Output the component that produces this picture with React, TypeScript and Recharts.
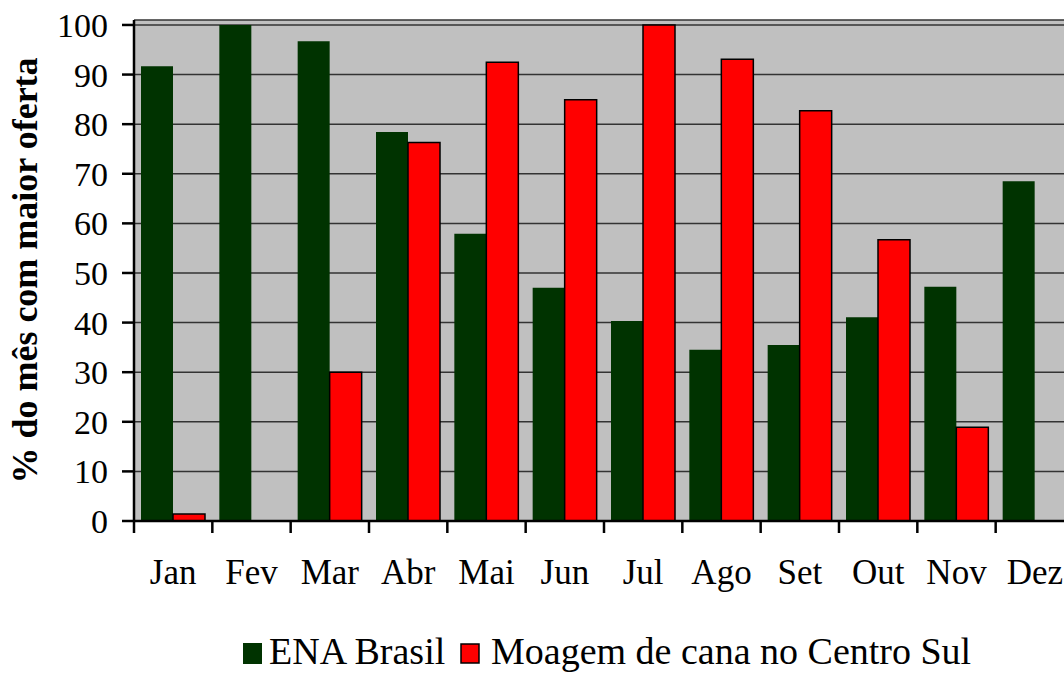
import { BarChart, Bar, XAxis, YAxis, CartesianGrid, Customized, Label } from 'recharts';

const months = ['Jan', 'Fev', 'Mar', 'Abr', 'Mai', 'Jun', 'Jul', 'Ago', 'Set', 'Out', 'Nov', 'Dez'];
const enaBrasil = [91.7, 100, 96.7, 78.4, 57.9, 47.0, 40.3, 34.5, 35.5, 41.1, 47.2, 68.5];
const moagemCana = [1.4, null, 30.0, 76.3, 92.5, 84.9, 100, 93.1, 82.7, 56.7, 18.9, null];
const yTicks = [0, 10, 20, 30, 40, 50, 60, 70, 80, 90, 100];

const series = [
  { key: 'ena', name: 'ENA Brasil', fill: '#003300', stroke: 'none' },
  { key: 'moagem', name: 'Moagem de cana no Centro Sul', fill: '#FF0000', stroke: '#000000' },
];

const data = months.map((m, i) => ({ month: m, ena: enaBrasil[i], moagem: moagemCana[i] }));

const FONT = 'Liberation Serif';
const CHART_W = 1080;
const CHART_H = 673;
const LEFT = 134;
const RIGHT_MARGIN = 6;
const PLOT_W = CHART_W - LEFT - RIGHT_MARGIN;
const BAND = PLOT_W / months.length;
const X_TICK_MARGIN = 38;

const MonthTick = (props: any) => {
  const { x, y, payload } = props;
  const axisY = y - X_TICK_MARGIN;
  return (
    <g>
      <line x1={x - BAND / 2} x2={x - BAND / 2} y1={axisY} y2={axisY + 12} stroke="#000" strokeWidth={2.5} />
      <text x={x} y={y} dy="0.71em" textAnchor="middle" fill="#000" fontFamily={FONT} fontSize={35}>
        {payload.value}
      </text>
    </g>
  );
};

// legend drawn inside the chart svg, under the plot
const LegendBlock = () => {
  const top = 643;
  const x0 = LEFT + 109;
  return (
    <g fontFamily={FONT} fontSize={38} fill="#000">
      <rect x={x0} y={top} width={19} height={21} fill={series[0].fill} />
      <text x={x0 + 26} y={top + 21}>{series[0].name}</text>
      <rect x={x0 + 218} y={top + 1} width={18} height={19} fill={series[1].fill} stroke={series[1].stroke} strokeWidth={1.5} />
      <text x={x0 + 248} y={top + 21}>{series[1].name}</text>
    </g>
  );
};

export default function App() {
  return (
    <div style={{ position: 'fixed', left: 0, top: 0, width: 1064, height: 673, overflow: 'hidden', background: '#fff' }}>
      <BarChart
        width={CHART_W}
        height={CHART_H}
        data={data}
        margin={{ top: 20, right: RIGHT_MARGIN, left: 0, bottom: 46 }}
        barCategoryGap={7}
        barGap={0}
      >
        <CartesianGrid vertical={false} fill="#C0C0C0" stroke="#333" strokeWidth={1.5} />
        <XAxis
          dataKey="month"
          height={106}
          tickLine={false}
          tickSize={0}
          tickMargin={X_TICK_MARGIN}
          axisLine={{ stroke: '#000', strokeWidth: 2.5 }}
          tick={<MonthTick />}
          interval={0}
        />
        <YAxis
          width={LEFT}
          domain={[0, 101]}
          ticks={yTicks}
          interval={0}
          tickSize={12}
          tickMargin={14}
          axisLine={{ stroke: '#000', strokeWidth: 2.5 }}
          tickLine={{ stroke: '#000', strokeWidth: 2.5 }}
          tick={{ fill: '#000', fontFamily: FONT, fontSize: 34 }}
        >
          <Label
            content={({ viewBox }: any) => {
              const cx = 25;
              const cy = viewBox.y + viewBox.height / 2;
              return (
                <text
                  x={cx}
                  y={cy}
                  transform={`rotate(-90, ${cx}, ${cy})`}
                  textAnchor="middle"
                  dominantBaseline="central"
                  fontFamily={FONT}
                  fontWeight="bold"
                  fontSize={36}
                  fill="#000"
                >
                  % do mês com maior oferta
                </text>
              );
            }}
          />
        </YAxis>
        {series.map((s) => (
          <Bar
            key={s.key}
            dataKey={s.key}
            name={s.name}
            fill={s.fill}
            stroke={s.stroke}
            strokeWidth={1.5}
            isAnimationActive={false}
          />
        ))}
        <Customized component={LegendBlock} />
      </BarChart>
    </div>
  );
}
